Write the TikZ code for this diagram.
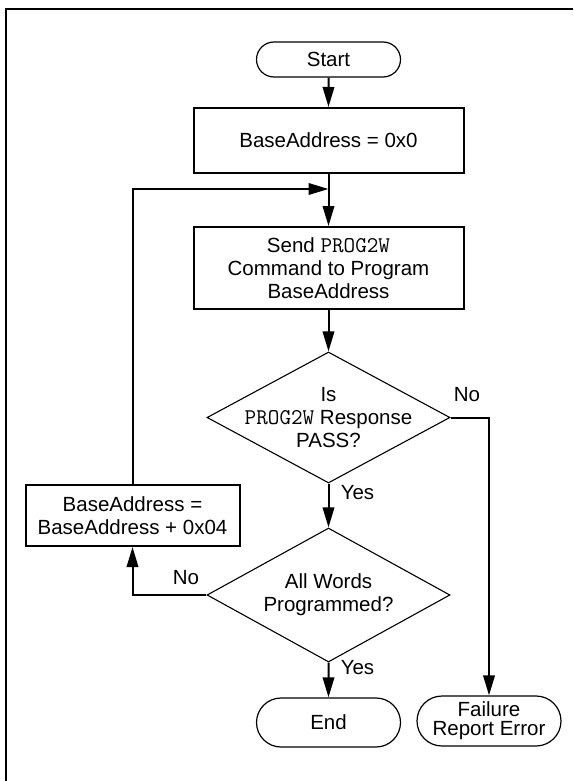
\documentclass[tikz,border=0pt]{standalone}
\usepackage{fontspec}
\setmainfont{Liberation Sans}
\usetikzlibrary{shapes.geometric,shapes.misc,arrows.meta}
\newcommand{\mono}[1]{{\fontsize{22.5}{23}\ttfamily #1}}

\begin{document}
\begin{tikzpicture}[x=1pt, y=-1pt,
    every node/.style={font=\fontsize{20.5}{23}\selectfont, align=center},
    term/.style={rounded rectangle, draw, line width=1.2pt, minimum width=144pt, minimum height=49pt, inner sep=0pt},
    proc/.style={rectangle, draw, line width=2pt, minimum width=270pt, inner sep=0pt},
    dec/.style={diamond, draw, line width=1.1pt, minimum width=243pt, minimum height=131pt, inner sep=0pt},
    flow/.style={line width=2pt, -{Triangle[length=20pt,width=11.5pt]}},
    tag/.style={inner sep=0pt}]
    \useasboundingbox (0,0) rectangle (573,781);
    \draw[line width=2pt] (5.5,781) -- (5.5,9.5) -- (573,9.5);

    \node[term, minimum height=35pt] (start) at (328.5,59.5) {Start};
    \node[proc, minimum height=65pt] (init) at (328.5,140.5) {BaseAddress = 0x0};
    \coordinate (join) at (328.5,189);
    \node[proc, minimum height=82pt] (send) at (328.5,268) {Send \mono{PROG2W}\\Command to Program\\BaseAddress};
    \node[dec, label={[align=center]center:{Is\\\mono{PROG2W} Response\\PASS?}}] (pass) at (328.5,417.5) {};
    \node[dec, minimum height=134pt, label={[align=center]center:{All Words\\Programmed?}}] (done) at (328.5,595) {};
    \node[proc, minimum width=214pt, minimum height=61pt] (next) at (132.5,515.5) {BaseAddress =\\BaseAddress + 0x04};
    \node[term] (end) at (328.5,722.5) {End};
    \node[term, minimum height=50pt, font=\fontsize{20.5}{19}\selectfont] (fail) at (489,721) {Failure\\Report Error};

    \node[tag] (no1) at (467,395) {No};
    \node[tag] (yes1) at (357.5,493) {Yes};
    \node[tag] (no2) at (186,578) {No};
    \node[tag] (yes2) at (357.5,668) {Yes};

    \draw[flow] (start) -- (init);
    \draw[flow] (init) -- (send);
    \draw[flow] (send) -- (pass);
    \draw[flow] (pass) -- (done);
    \draw[flow] (done) -- (end);
    \draw[flow] (pass.east) -| (fail);
    \draw[flow] (done.west) -| (next);
    \draw[flow] (next) |- (join);
\end{tikzpicture}
\end{document}
